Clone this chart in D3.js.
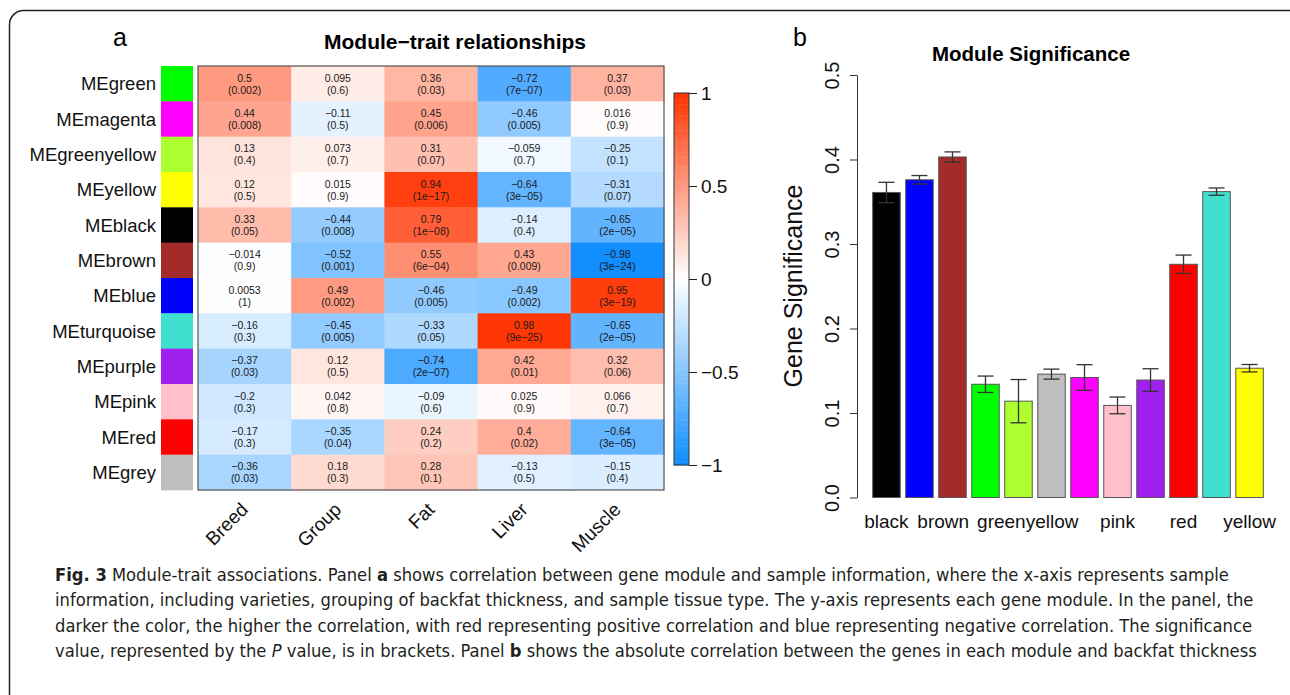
<!DOCTYPE html>
<html>
<head>
<meta charset="utf-8">
<script src="https://cdn.jsdelivr.net/npm/d3@7"></script>
<style>
    body { margin: 0; background: #fff; }
    svg { display: block; font-family: "Liberation Sans", Arial, Helvetica, sans-serif; }
</style>
</head>
<body>
<div id="chart-container"></div>
<script>
// Panel a: module-trait correlations
const modules = ['MEgreen', 'MEmagenta', 'MEgreenyellow', 'MEyellow', 'MEblack', 'MEbrown',
    'MEblue', 'MEturquoise', 'MEpurple', 'MEpink', 'MEred', 'MEgrey'];
const moduleColors = ['#00ff00', '#ff00ff', '#adff2f', '#ffff00', '#000000', '#a52a2a',
    '#0000ff', '#40e0d0', '#a020f0', '#ffc0cb', '#ff0000', '#bebebe'];
const traits = ['Breed', 'Group', 'Fat', 'Liver', 'Muscle'];
const correlations = [
    [0.5, 0.095, 0.36, -0.72, 0.37],
    [0.44, -0.11, 0.45, -0.46, 0.016],
    [0.13, 0.073, 0.31, -0.059, -0.25],
    [0.12, 0.015, 0.94, -0.64, -0.31],
    [0.33, -0.44, 0.79, -0.14, -0.65],
    [-0.014, -0.52, 0.55, 0.43, -0.98],
    [0.0053, 0.49, -0.46, -0.49, 0.95],
    [-0.16, -0.45, -0.33, 0.98, -0.65],
    [-0.37, 0.12, -0.74, 0.42, 0.32],
    [-0.2, 0.042, -0.09, 0.025, 0.066],
    [-0.17, -0.35, 0.24, 0.4, -0.64],
    [-0.36, 0.18, 0.28, -0.13, -0.15]
];
const pValues = [
    ['0.002', '0.6', '0.03', '7e-07', '0.03'],
    ['0.008', '0.5', '0.006', '0.005', '0.9'],
    ['0.4', '0.7', '0.07', '0.7', '0.1'],
    ['0.5', '0.9', '1e-17', '3e-05', '0.07'],
    ['0.05', '0.008', '1e-08', '0.4', '2e-05'],
    ['0.9', '0.001', '6e-04', '0.009', '3e-24'],
    ['1', '0.002', '0.005', '0.002', '3e-19'],
    ['0.3', '0.005', '0.05', '9e-25', '2e-05'],
    ['0.03', '0.5', '2e-07', '0.01', '0.06'],
    ['0.3', '0.8', '0.6', '0.9', '0.7'],
    ['0.3', '0.04', '0.2', '0.02', '3e-05'],
    ['0.03', '0.3', '0.1', '0.5', '0.4']
];
const legendTicks = [1, 0.5, 0, -0.5, -1];

// Panel b: module significance
const barModules = ['black', 'blue', 'brown', 'green', 'greenyellow', 'grey',
    'magenta', 'pink', 'purple', 'red', 'turquoise', 'yellow'];
const barColors = ['#000000', '#0000ff', '#a52a2a', '#00ff00', '#adff2f', '#bebebe',
    '#ff00ff', '#ffc0cb', '#a020f0', '#ff0000', '#40e0d0', '#ffff00'];
const geneSignificance = [0.361, 0.376, 0.403, 0.134, 0.114, 0.146, 0.142, 0.109, 0.139, 0.276, 0.362, 0.153];
const significanceSE = [0.012, 0.005, 0.006, 0.0097, 0.0256, 0.0059, 0.0152, 0.0099, 0.0134, 0.0109, 0.0043, 0.0044];
const shownBarLabels = ['black', 'brown', 'greenyellow', 'pink', 'red', 'yellow'];
const yTicks = [0, 0.1, 0.2, 0.3, 0.4, 0.5];

// Figure caption
const captionLines = [
    [['Fig. 3', 'b'], [' Module-trait associations. Panel '], ['a', 'b'],
        [' shows correlation between gene module and sample information, where the x-axis represents sample']],
    [['information, including varieties, grouping of backfat thickness, and sample tissue type. The y-axis represents each gene module. In the panel, the']],
    [['darker the color, the higher the correlation, with red representing positive correlation and blue representing negative correlation. The significance']],
    [['value, represented by the '], ['P', 'i'], [' value, is in brackets. Panel '], ['b', 'b'],
        [' shows the absolute correlation between the genes in each module and backfat thickness']]
];

const W = 1290, H = 695;
const fmt = v => String(v).replace('-', '\u2212');

const svg = d3.select('#chart-container')
    .append('svg')
    .attr('width', W)
    .attr('height', H);

// Outer frame
svg.append('rect')
    .attr('x', 9.5)
    .attr('y', 10.5)
    .attr('width', 1310)
    .attr('height', 720)
    .attr('rx', 14)
    .attr('fill', 'none')
    .attr('stroke', '#222')
    .attr('stroke-width', 1.5);

// ---------- Panel a ----------
const hm = { left: 198, right: 664, top: 66, bottom: 490 };

const x = d3.scaleBand()
    .domain(traits)
    .range([hm.left, hm.right]);

const y = d3.scaleBand()
    .domain(modules)
    .range([hm.top, hm.bottom]);

const color = d3.scaleLinear()
    .domain([-1, 0, 1])
    .range(['rgb(13,140,255)', '#ffffff', 'rgb(255,51,0)']);

svg.append('text')
    .attr('x', 120)
    .attr('y', 46)
    .attr('text-anchor', 'middle')
    .attr('font-size', '25px')
    .text('a');

svg.append('text')
    .attr('x', 455)
    .attr('y', 49)
    .attr('text-anchor', 'middle')
    .attr('font-size', '21px')
    .attr('font-weight', 'bold')
    .text('Module\u2212trait relationships');

// Cells
const cells = modules.flatMap((m, i) => traits.map((t, j) => ({
    module: m, trait: t, r: correlations[i][j], p: pValues[i][j]
})));

const cell = svg.append('g')
    .selectAll('.cell')
    .data(cells)
    .enter()
    .append('g')
    .attr('class', 'cell');

cell.append('rect')
    .attr('x', d => x(d.trait))
    .attr('y', d => y(d.module))
    .attr('width', x.bandwidth() + 0.5)
    .attr('height', y.bandwidth() + 0.5)
    .attr('fill', d => color(d.r));

cell.append('text')
    .attr('x', d => x(d.trait) + x.bandwidth() / 2)
    .attr('y', d => y(d.module) + y.bandwidth() / 2 - 2)
    .attr('text-anchor', 'middle')
    .attr('font-size', '10.5px')
    .attr('fill', '#1a1a1a')
    .text(d => fmt(d.r));

cell.append('text')
    .attr('x', d => x(d.trait) + x.bandwidth() / 2)
    .attr('y', d => y(d.module) + y.bandwidth() / 2 + 10)
    .attr('text-anchor', 'middle')
    .attr('font-size', '10.5px')
    .attr('fill', '#1a1a1a')
    .text(d => '(' + fmt(d.p) + ')');

svg.append('rect')
    .attr('x', hm.left)
    .attr('y', hm.top)
    .attr('width', hm.right - hm.left)
    .attr('height', hm.bottom - hm.top)
    .attr('fill', 'none')
    .attr('stroke', '#555')
    .attr('stroke-width', 1.2);

// Module colour strip and row labels
svg.append('g')
    .selectAll('rect')
    .data(modules)
    .enter()
    .append('rect')
    .attr('x', 161)
    .attr('y', d => y(d))
    .attr('width', 32)
    .attr('height', y.bandwidth() + 0.3)
    .attr('fill', (d, i) => moduleColors[i]);

svg.append('g')
    .selectAll('text')
    .data(modules)
    .enter()
    .append('text')
    .attr('x', 156)
    .attr('y', d => y(d) + y.bandwidth() / 2)
    .attr('dy', '0.36em')
    .attr('text-anchor', 'end')
    .attr('font-size', '18.5px')
    .attr('fill', '#111')
    .text(d => d);

// Column labels
svg.append('g')
    .selectAll('text')
    .data(traits)
    .enter()
    .append('text')
    .attr('transform', d => `translate(${x(d) + x.bandwidth() / 2 - 5},${hm.bottom + 11}) rotate(-45)`)
    .attr('dy', '0.72em')
    .attr('text-anchor', 'end')
    .attr('font-size', '19px')
    .attr('fill', '#111')
    .text(d => d);

// Colour legend
const legendY = d3.scaleLinear()
    .domain([-1, 1])
    .range([465, 93]);

const steps = d3.range(-1, 1, 0.02);
svg.append('g')
    .selectAll('rect')
    .data(steps)
    .enter()
    .append('rect')
    .attr('x', 674)
    .attr('y', d => legendY(d + 0.02))
    .attr('width', 15)
    .attr('height', d => legendY(d) - legendY(d + 0.02) + 0.4)
    .attr('fill', d => color(d + 0.01));

svg.append('rect')
    .attr('x', 674)
    .attr('y', legendY(1))
    .attr('width', 15)
    .attr('height', legendY(-1) - legendY(1))
    .attr('fill', 'none')
    .attr('stroke', '#333')
    .attr('stroke-width', 1);

const legendAxis = svg.append('g')
    .attr('transform', 'translate(689,0)')
    .call(d3.axisRight(legendY).tickValues(legendTicks).tickSize(8).tickSizeOuter(0).tickFormat(fmt));

legendAxis.select('.domain').remove();
legendAxis.selectAll('line').attr('stroke', '#222');
legendAxis.selectAll('text')
    .attr('x', 12)
    .attr('font-size', '19px')
    .attr('font-family', '"Liberation Sans", Arial, sans-serif')
    .attr('fill', '#111');

// ---------- Panel b ----------
const bx = d3.scaleBand()
    .domain(barModules)
    .range([867.2, 1268.8])
    .paddingInner(1 / 6)
    .paddingOuter(1 / 6);

const by = d3.scaleLinear()
    .domain([0, 0.5])
    .range([497.5, 75]);

svg.append('text')
    .attr('x', 800)
    .attr('y', 46)
    .attr('text-anchor', 'middle')
    .attr('font-size', '25px')
    .text('b');

svg.append('text')
    .attr('x', 1031)
    .attr('y', 61)
    .attr('text-anchor', 'middle')
    .attr('font-size', '20.5px')
    .attr('font-weight', 'bold')
    .text('Module Significance');

const yAxis = svg.append('g')
    .attr('transform', 'translate(857,0)')
    .call(d3.axisLeft(by).tickValues(yTicks).tickSize(7).tickSizeOuter(0).tickFormat(d3.format('.1f')));

yAxis.selectAll('line, .domain').attr('stroke', '#333');
yAxis.selectAll('text')
    .attr('transform', 'rotate(-90)')
    .attr('x', 0)
    .attr('y', -18)
    .attr('dy', null)
    .attr('text-anchor', 'middle')
    .attr('font-size', '20px')
    .attr('font-family', '"Liberation Sans", Arial, sans-serif')
    .attr('fill', '#111');

svg.append('text')
    .attr('transform', 'translate(802,286) rotate(-90)')
    .attr('text-anchor', 'middle')
    .attr('font-size', '25px')
    .attr('fill', '#111')
    .text('Gene Significance');

const bars = barModules.map((m, i) => ({
    module: m, fill: barColors[i], value: geneSignificance[i], se: significanceSE[i]
}));

svg.append('g')
    .selectAll('rect')
    .data(bars)
    .enter()
    .append('rect')
    .attr('x', d => bx(d.module))
    .attr('y', d => by(d.value))
    .attr('width', bx.bandwidth())
    .attr('height', d => by(0) - by(d.value))
    .attr('fill', d => d.fill)
    .attr('stroke', '#555')
    .attr('stroke-width', 1);

// Error bars
const err = svg.append('g')
    .selectAll('g')
    .data(bars)
    .enter()
    .append('g')
    .attr('stroke', '#333')
    .attr('stroke-width', 1.3);

err.append('line')
    .attr('x1', d => bx(d.module) + bx.bandwidth() / 2)
    .attr('x2', d => bx(d.module) + bx.bandwidth() / 2)
    .attr('y1', d => by(d.value - d.se))
    .attr('y2', d => by(d.value + d.se));

[-1, 1].forEach(s => {
    err.append('line')
        .attr('x1', d => bx(d.module) + bx.bandwidth() / 2 - 8)
        .attr('x2', d => bx(d.module) + bx.bandwidth() / 2 + 8)
        .attr('y1', d => by(d.value + s * d.se))
        .attr('y2', d => by(d.value + s * d.se));
});

// Bar labels (only the ones R kept), pushed apart where they collide
const barLabels = svg.append('g')
    .selectAll('text')
    .data(shownBarLabels)
    .enter()
    .append('text')
    .attr('x', d => bx(d) + bx.bandwidth() / 2)
    .attr('y', 528)
    .attr('text-anchor', 'middle')
    .attr('font-size', '19px')
    .attr('fill', '#111')
    .text(d => d);

const labelNodes = barLabels.nodes();
for (let k = 1; k < labelNodes.length; k++) {
    const a = labelNodes[k - 1].getBBox();
    const b = labelNodes[k].getBBox();
    const overlap = a.x + a.width + 8 - b.x;
    if (overlap > 0) {
        labelNodes[k - 1].setAttribute('x', +labelNodes[k - 1].getAttribute('x') - overlap / 2);
        labelNodes[k].setAttribute('x', +labelNodes[k].getAttribute('x') + overlap / 2);
    }
}

// ---------- Caption ----------
const caption = svg.append('g')
    .attr('font-family', '"Liberation Sans Narrow", "DejaVu Sans Condensed", "Liberation Sans", sans-serif')
    .attr('font-size', '18px')
    .attr('fill', '#231f20');

const captionText = captionLines.map((line, i) => {
    const t = caption.append('text')
        .attr('x', 55)
        .attr('y', 581 + i * 25.3);
    line.forEach(([str, style]) => {
        t.append('tspan')
            .attr('font-weight', style === 'b' ? 'bold' : null)
            .attr('font-style', style === 'i' ? 'italic' : null)
            .text(str);
    });
    return t;
});

// fit the font so the second line spans the same width as in the figure
const natural = captionText[1].node().getComputedTextLength();
caption.attr('font-size', (18 * 1199 / natural).toFixed(2) + 'px');
</script>
</body>
</html>
